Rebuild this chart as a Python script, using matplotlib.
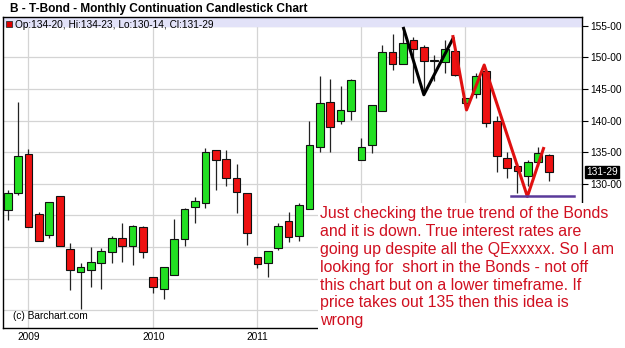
import matplotlib.pyplot as plt
from matplotlib.patches import Rectangle
from matplotlib.transforms import blended_transform_factory

# monthly candles (price units)
opens = [125.9, 128.5, 134.75, 125.2, 121.9, 128.15, 119.7, 116.0, 116.3, 117.45,
         119.2, 121.5, 120.2, 123.25, 115.3, 113.4, 115.6, 121.25, 126.3, 127.05,
         135.3, 133.9, 131.0, 128.6, 118.5, 117.45, 119.9, 124.15, 121.8, 126.0,
         135.9, 142.9, 140.0, 141.6, 133.7, 136.1, 141.6, 150.9, 149.0, 152.7,
         151.6, 149.45, 149.35, 151.0, 142.8, 144.2, 147.9, 139.9, 134.1, 132.85,
         131.3, 133.4, 134.625]
closes = [128.5, 134.4, 123.2, 120.9, 127.2, 120.1, 116.4, 116.9, 117.7, 119.4,
          121.4, 120.1, 123.4, 119.3, 113.75, 116.8, 121.25, 126.0, 127.3, 135.1,
          133.8, 131.0, 128.7, 122.2, 117.35, 119.4, 123.4, 121.6, 126.6, 136.1,
          142.8, 139.0, 141.7, 146.45, 135.8, 142.45, 150.8, 148.9, 152.25, 151.4,
          149.5, 149.55, 151.3, 147.3, 143.55, 147.1, 139.6, 134.4, 132.5, 132.05,
          133.4, 134.85, 131.906]
highs = [129.05, 143.0, 135.5, 125.6, 127.2, 128.15, 120.7, 117.45, 120.0, 119.8,
         121.8, 123.8, 123.5, 123.4, 115.3, 116.9, 124.4, 126.25, 128.0, 135.65,
         135.3, 135.4, 133.2, 128.6, 118.5, 119.4, 123.8, 125.5, 127.05, 140.0,
         147.1, 146.6, 145.55, 146.6, 137.2, 142.45, 152.0, 153.7, 154.2, 153.3,
         152.0, 150.4, 152.8, 151.0, 143.55, 147.5, 148.0, 140.75, 135.1, 133.3,
         133.7, 135.9, 134.72]
lows = [124.3, 128.3, 123.2, 120.9, 121.4, 120.1, 113.2, 110.2, 113.75, 113.3,
        117.45, 117.7, 117.2, 118.2, 112.7, 111.85, 115.6, 120.1, 123.8, 126.15,
        129.05, 129.6, 125.4, 120.35, 116.7, 115.3, 119.55, 120.8, 120.9, 126.0,
        135.0, 135.1, 139.4, 140.1, 133.7, 134.95, 141.6, 148.0, 149.0, 146.0,
        144.2, 146.3, 147.5, 147.0, 142.8, 143.55, 139.0, 131.8, 130.9, 128.5,
        129.6, 132.75, 130.44]

year_idx = [2, 14, 24, 34, 44]
year_labels = ['2009', '2010', '2011', '', '']
price_ticks = [110, 115, 120, 125, 130, 135, 140, 145, 150, 155]
# labels under 130 sit behind the pasted note
price_labels = ['', '', '', '', '130-00', '135-00', '140-00', '145-00', '150-00', '155-00']

# hand drawn trend lines (bar index, price)
black_x = [38.05, 40.0, 42.8]
black_y = [154.6, 144.1, 153.0]
red_x = [42.8, 44.1, 45.8, 49.95, 51.5]
red_y = [153.3, 141.7, 148.8, 128.0, 135.6]
support_x = [48.4, 54.4]
support_y = [128.15, 128.15]

note = ("Just checking the true trend of the Bonds\n"
        "and it is down. True interest rates are\n"
        "going up despite all the QExxxxx. So I am\n"
        "looking for  short in the Bonds - not off\n"
        "this chart but on a lower timeframe. If\n"
        "price takes out 135 then this idea is\n"
        "wrong")

plt.rcParams['font.family'] = ['Liberation Sans', 'DejaVu Sans']

fig = plt.figure(figsize=(6.25, 3.48), dpi=100)
ax = fig.add_axes([3 / 625, 20 / 348, 579 / 625, 311 / 348])

green = '#22e022'
red = '#ee1111'
n = len(opens)
for i in range(n):
    o, c = opens[i], closes[i]
    col = green if c >= o else red
    ax.vlines(i, lows[i], highs[i], color='#222222', linewidth=0.9, zorder=2)
    ax.bar(i, max(abs(c - o), 0.12), bottom=min(o, c), width=0.74,
           color=col, edgecolor='#111111', linewidth=0.8, zorder=3)

ax.plot(black_x, black_y, color='black', linewidth=2.2, zorder=4)
ax.plot(red_x, red_y, color='#e01010', linewidth=2.2, zorder=4)
ax.plot(support_x, support_y, color='#5a3a9a', linewidth=1.8, zorder=4)

ymin, ymax = 107.2, 156.4
ax.set_xlim(-0.45, 55.2)
ax.set_ylim(ymin, ymax)
ax.axhspan(154.95, ymax, color='#e2e2f8', zorder=1)

ax.set_yticks(price_ticks)
ax.set_yticklabels(price_labels)
ax.yaxis.tick_right()
ax.set_xticks(year_idx)
ax.set_xticklabels(year_labels)
ax.tick_params(axis='y', length=4, width=0.8, labelsize=7.3, pad=2)
ax.tick_params(axis='x', length=0, labelsize=7.3, pad=3)
ax.grid(True, color='#d4d4d4', linewidth=0.9, zorder=0)
ax.set_axisbelow(True)
for s in ax.spines.values():
    s.set_linewidth(1.0)
    s.set_color('black')

# last price flag on the right axis
trans = blended_transform_factory(ax.transAxes, ax.transData)
ax.text(1.008, closes[-1], "131-29", transform=trans, fontsize=7.3, color='white',
        va='center', ha='left',
        bbox=dict(boxstyle='square,pad=0.12', facecolor='black', edgecolor='black'))

# ohlc readout in the top band
ax.plot([0.0095], [0.976], marker='s', markersize=5, color='#dd0000',
        markeredgecolor='#333333', markeredgewidth=0.6, transform=ax.transAxes,
        clip_on=False, zorder=5)
ax.text(0.02, 0.975, "Op:134-20, Hi:134-23, Lo:130-14, Cl:131-29",
        transform=ax.transAxes, fontsize=7.3, va='center', ha='left')
ax.text(0.017, 0.04, "(c) Barchart.com", transform=ax.transAxes, fontsize=7.3,
        va='center', ha='left')

fig.text(10 / 625, 1 - 9 / 348, "B - T-Bond - Monthly Continuation Candlestick Chart",
         fontsize=8.6, fontweight='bold', va='center', ha='left')

# white note box pasted over the lower right corner
fig.add_artist(Rectangle((318 / 625, 0), 1, 1 - 203 / 348, transform=fig.transFigure,
                         facecolor='white', edgecolor='none', zorder=5))
fig.text(320 / 625, 1 - 206 / 348, note, fontsize=11.4, color='#d01020',
         va='top', ha='left', linespacing=1.24, zorder=6)

fig.savefig('out.png', dpi=100)
